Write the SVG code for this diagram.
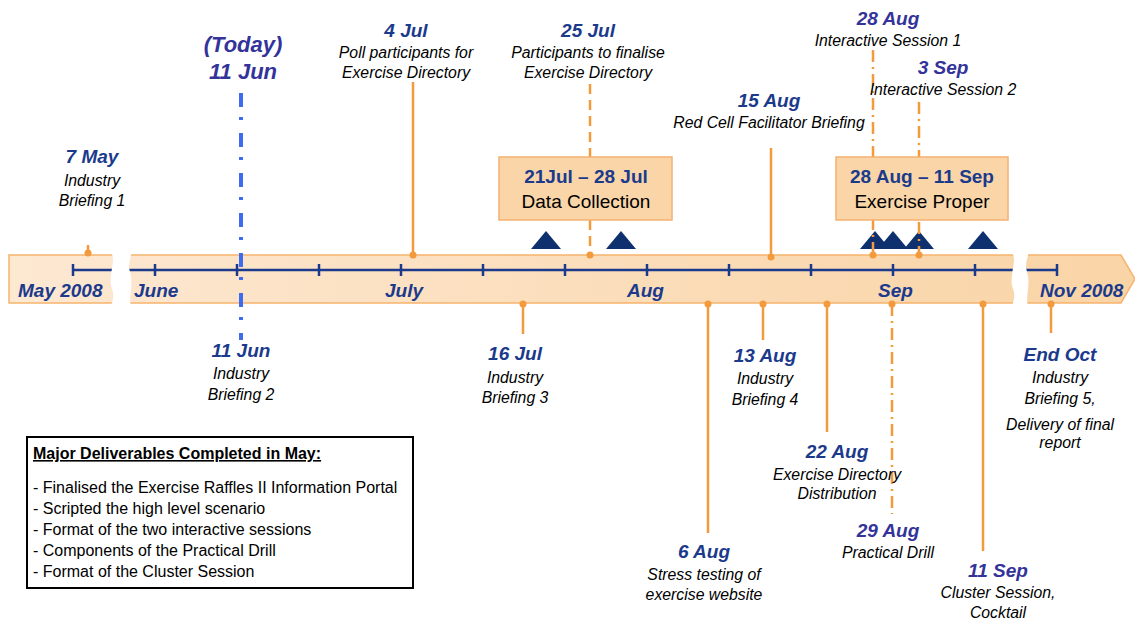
<svg xmlns="http://www.w3.org/2000/svg" width="1135" height="623" viewBox="0 0 1135 623">
<defs>
<linearGradient id="bandGrad" x1="0" y1="0" x2="1" y2="0">
<stop offset="0" stop-color="#fde8d2"/>
<stop offset="1" stop-color="#f9d4a6"/>
</linearGradient>
<style>
.date{font-family:"Liberation Sans",Arial,sans-serif;font-weight:bold;font-style:italic;font-size:19px;fill:#1b3a8c;text-anchor:middle}
.datep{fill:#33339a}
.today{font-size:22px}
.desc{font-family:"Liberation Sans",Arial,sans-serif;font-style:italic;font-size:15.8px;fill:#000;text-anchor:middle}
.month{font-family:"Liberation Sans",Arial,sans-serif;font-weight:bold;font-style:italic;font-size:19px;fill:#1b3a8c}
.boxt{font-family:"Liberation Sans",Arial,sans-serif;font-size:19px;text-anchor:middle}
.boxb{font-weight:bold;fill:#1b3a8c}
.del{font-family:"Liberation Sans",Arial,sans-serif;font-size:16px;fill:#000}
.ln{stroke:#f39a3c;stroke-width:2.5;fill:none}
.dash{stroke-dasharray:10 6}
.dashdot{stroke-dasharray:12 5 2 5}
.dot{fill:#f39a3c}
.tri{fill:#0f306f}
.axis{stroke:#1b3a8c;stroke-width:2.5;fill:none}
.box{fill:#f9d5a8;stroke:#f5b070;stroke-width:1.5}
</style>
</defs>

<g id="timeline-band">
<path d="M9,255 L1121,255 L1135,279 L1121,303 L9,303 Z" fill="url(#bandGrad)" stroke="#f6b46e" stroke-width="1.5"/>
<path class="axis" d="M73,270 L1057,270"/>
<path class="axis" d="M73,264 V276 M155,264 V276 M237,264 V276 M319,264 V276 M401,264 V276 M483,264 V276 M565,264 V276 M647,264 V276 M729,264 V276 M811,264 V276 M893,264 V276 M975,264 V276 M1057,264 V276"/>
<path d="M111,252 C117,262 107,275 112,289 C115,297 112,302 111,306 L131,306 C128,297 134,285 130,272 C127,263 132,257 131,252 Z" fill="#fff"/>
<path d="M1012,252 C1018,262 1008,275 1013,289 C1016,297 1013,302 1012,306 L1028,306 C1025,297 1031,285 1027,272 C1024,263 1029,257 1028,252 Z" fill="#fff"/>
<text class="month" x="18" y="297">May 2008</text>
<text class="month" x="134" y="297">June</text>
<text class="month" x="385" y="297">July</text>
<text class="month" x="627" y="297">Aug</text>
<text class="month" x="878" y="297">Sep</text>
<text class="month" x="1040" y="297">Nov 2008</text>
</g>

<g id="markers">
<path class="tri" d="M531,249 L546,231 L561,249 Z"/>
<path class="tri" d="M606,249 L621,231 L636,249 Z"/>
<path class="tri" d="M860,249 L875,231 L890,249 Z"/>
<path class="tri" d="M878,249 L893,231 L908,249 Z"/>
<path class="tri" d="M904,249 L919,231 L934,249 Z"/>
<path class="tri" d="M968,249 L983,231 L998,249 Z"/>
</g>

<g id="connectors">
<path class="ln" d="M88,245 V253"/>
<path d="M241,93 V340" stroke="#3e6cf0" stroke-width="4" stroke-dasharray="14 10 3 13" fill="none"/>
<path class="ln" d="M413,82 V255"/>
<path class="ln dash" d="M590,84 V157 M590,220 V255"/>
<path class="ln" d="M771,148 V257"/>
<path class="ln dashdot" d="M873,50 V255"/>
<path class="ln dashdot" d="M919,102 V255"/>
<path class="ln" d="M523,304 V334"/>
<path class="ln" d="M708,304 V533"/>
<path class="ln" d="M763,304 V340"/>
<path class="ln" d="M827,304 V432"/>
<path class="ln dashdot" d="M892,304 V514"/>
<path class="ln" d="M983,304 V551"/>
<path class="ln" d="M1051,304 V333"/>
<circle class="dot" cx="88" cy="253" r="3.5"/>
<circle class="dot" cx="413" cy="255" r="3.5"/>
<circle class="dot" cx="590" cy="255" r="3.5"/>
<circle class="dot" cx="771" cy="257" r="3.5"/>
<circle class="dot" cx="873" cy="255" r="3.5"/>
<circle class="dot" cx="919" cy="255" r="3.5"/>
<circle class="dot" cx="523" cy="304" r="3.5"/>
<circle class="dot" cx="708" cy="304" r="3.5"/>
<circle class="dot" cx="763" cy="304" r="3.5"/>
<circle class="dot" cx="827" cy="304" r="3.5"/>
<circle class="dot" cx="892" cy="304" r="3.5"/>
<circle class="dot" cx="983" cy="304" r="3.5"/>
<circle class="dot" cx="1051" cy="304" r="3.5"/>
</g>

<g id="box-data-collection">
<rect class="box" x="499" y="157" width="173" height="63"/>
<text class="boxt boxb" x="586" y="183">21Jul – 28 Jul</text>
<text class="boxt" x="586" y="208">Data Collection</text>
</g>

<g id="box-exercise-proper">
<rect class="box" x="836" y="157" width="172" height="63"/>
<text class="boxt boxb" x="922" y="183">28 Aug – 11 Sep</text>
<text class="boxt" x="922" y="208">Exercise Proper</text>
</g>

<g id="ev-7may">
<text class="date" x="92" y="163">7 May</text>
<text class="desc" x="92" y="186">Industry</text>
<text class="desc" x="92" y="206">Briefing 1</text>
</g>

<g id="ev-today">
<text class="date datep today" x="243" y="52">(Today)</text>
<text class="date datep today" x="243" y="79">11 Jun</text>
</g>

<g id="ev-4jul">
<text class="date" x="406" y="37">4 Jul</text>
<text class="desc" x="406" y="58">Poll participants for</text>
<text class="desc" x="406" y="78">Exercise Directory</text>
</g>

<g id="ev-25jul">
<text class="date" x="588" y="37">25 Jul</text>
<text class="desc" x="588" y="58">Participants to finalise</text>
<text class="desc" x="588" y="78">Exercise Directory</text>
</g>

<g id="ev-15aug">
<text class="date" x="769" y="107">15 Aug</text>
<text class="desc" x="769" y="128">Red Cell Facilitator Briefing</text>
</g>

<g id="ev-28aug">
<text class="date datep" x="888" y="25">28 Aug</text>
<text class="desc" x="888" y="46">Interactive Session 1</text>
</g>

<g id="ev-3sep">
<text class="date datep" x="943" y="74">3 Sep</text>
<text class="desc" x="943" y="95">Interactive Session 2</text>
</g>

<g id="ev-11jun">
<text class="date" x="241" y="357">11 Jun</text>
<text class="desc" x="241" y="379">Industry</text>
<text class="desc" x="241" y="400">Briefing 2</text>
</g>

<g id="ev-16jul">
<text class="date" x="515" y="360">16 Jul</text>
<text class="desc" x="515" y="383">Industry</text>
<text class="desc" x="515" y="403">Briefing 3</text>
</g>

<g id="ev-13aug">
<text class="date" x="765" y="362">13 Aug</text>
<text class="desc" x="765" y="384">Industry</text>
<text class="desc" x="765" y="405">Briefing 4</text>
</g>

<g id="ev-22aug">
<text class="date" x="837" y="458">22 Aug</text>
<text class="desc" x="837" y="480">Exercise Directory</text>
<text class="desc" x="837" y="499">Distribution</text>
</g>

<g id="ev-endoct">
<text class="date" x="1060" y="361">End Oct</text>
<text class="desc" x="1060" y="383">Industry</text>
<text class="desc" x="1060" y="404">Briefing 5,</text>
<text class="desc" x="1060" y="430">Delivery of final</text>
<text class="desc" x="1060" y="448">report</text>
</g>

<g id="ev-6aug">
<text class="date" x="704" y="558">6 Aug</text>
<text class="desc" x="704" y="580">Stress testing of</text>
<text class="desc" x="704" y="600">exercise website</text>
</g>

<g id="ev-29aug">
<text class="date datep" x="888" y="537">29 Aug</text>
<text class="desc" x="888" y="558">Practical Drill</text>
</g>

<g id="ev-11sep">
<text class="date datep" x="998" y="577">11 Sep</text>
<text class="desc" x="998" y="598">Cluster Session,</text>
<text class="desc" x="998" y="618">Cocktail</text>
</g>

<g id="deliverables">
<rect x="27" y="437" width="386" height="151" fill="#fff" stroke="#000" stroke-width="2"/>
<text class="del" x="33" y="459" font-weight="bold" text-decoration="underline">Major Deliverables Completed in May:</text>
<text class="del" x="33" y="493">- Finalised the Exercise Raffles II Information Portal</text>
<text class="del" x="33" y="514">- Scripted the high level scenario</text>
<text class="del" x="33" y="535">- Format of the two interactive sessions</text>
<text class="del" x="33" y="556">- Components of the Practical Drill</text>
<text class="del" x="33" y="577">- Format of the Cluster Session</text>
</g>
</svg>
